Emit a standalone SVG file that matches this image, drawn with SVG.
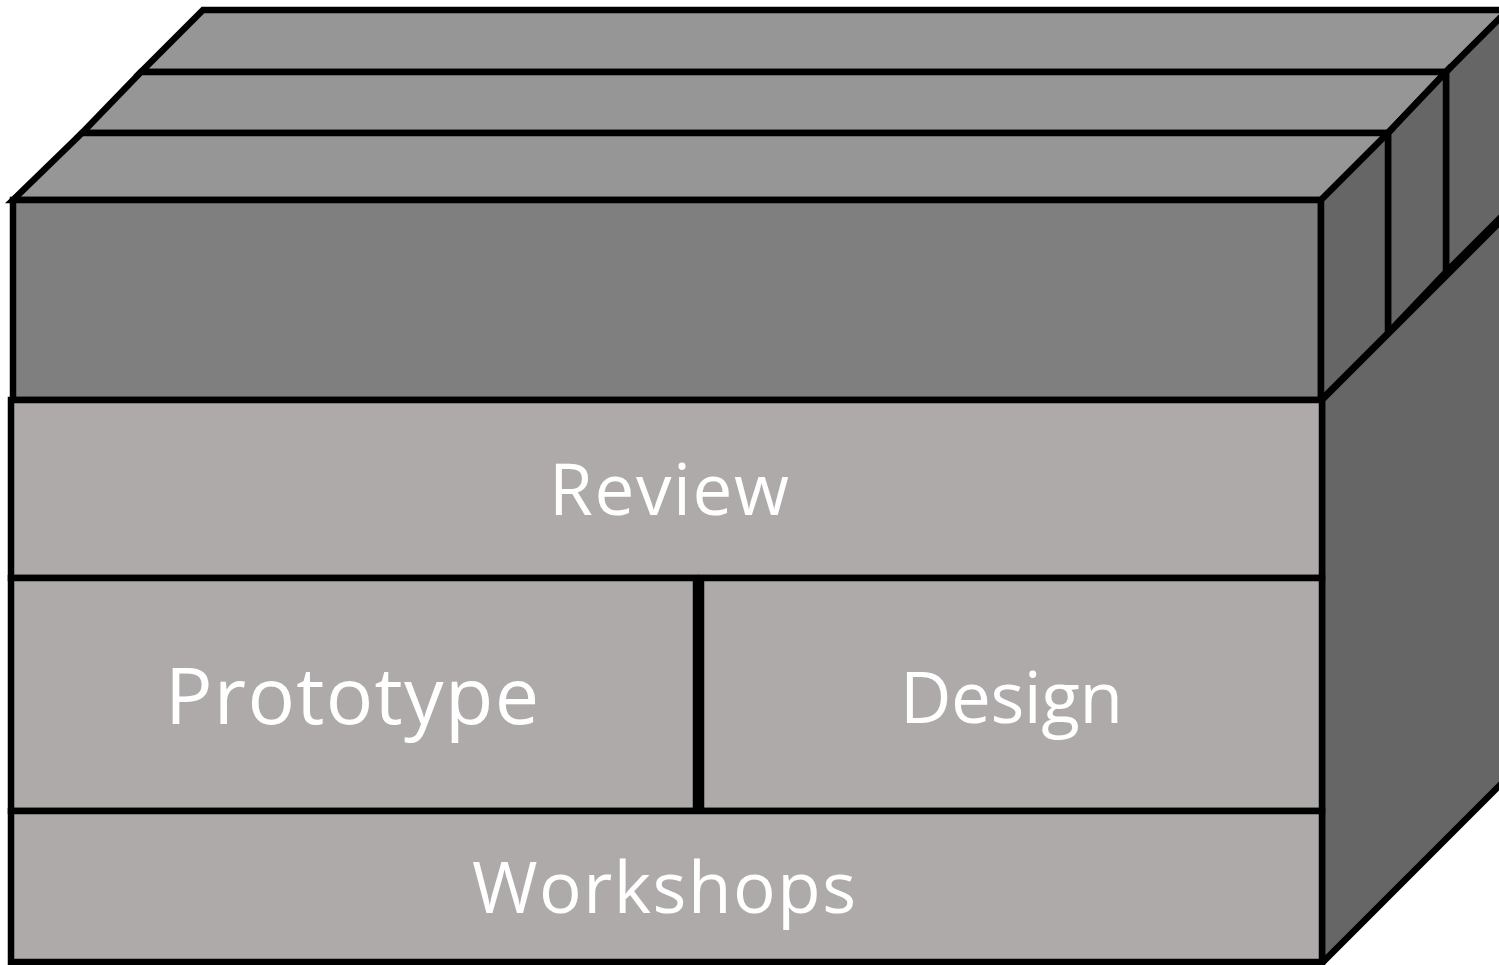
<svg xmlns="http://www.w3.org/2000/svg" width="1499" height="965" viewBox="0 0 1499 965">
<style>
.e{stroke:#000;stroke-width:6.5;stroke-linejoin:miter}
.top{fill:#969696}
.front{fill:#7f7f7f}
.side{fill:#666666}
.box{fill:#aeaaaa}
.lbl{font-family:"Open Sans","Lato","Liberation Sans",sans-serif;fill:#fff;font-size:71px}
</style>
<rect width="1499" height="965" fill="#fff"/>
<g id="slab-back">
<polygon class="e top" points="203,10 1508,10 1446,72 141,72"/>
<polygon class="e side" points="1446,72 1508,10 1508,210 1446,272"/>
</g>
<g id="slab-middle">
<polygon class="e top" points="141,72 1446,72 1388,133 82,133"/>
<polygon class="e side" points="1388,133 1446,72 1446,272 1388,333"/>
</g>
<g id="slab-front">
<polygon class="e top" points="82,133 1388,133 1321,200 13,200"/>
<rect class="e front" x="13" y="200" width="1308" height="200"/>
<polygon class="e side" points="1321,200 1388,133 1388,333 1321,400"/>
</g>
<g id="cube-side">
<polygon class="e side" points="1322,400 1512,210 1512,773 1322,963"/>
</g>
<g id="review">
<rect class="e box" x="11" y="400" width="1311" height="178"/>
<text class="lbl" x="549" y="515" textLength="240">Review</text>
</g>
<g id="prototype">
<rect class="e box" x="11" y="578" width="685" height="233"/>
<text class="lbl" x="165" y="724" textLength="374" style="font-size:79px">Prototype</text>
</g>
<g id="design">
<rect class="e box" x="701" y="578" width="621" height="233"/>
<text class="lbl" x="900" y="723" textLength="223">Design</text>
</g>
<g id="workshops">
<rect class="e box" x="11" y="811" width="1311" height="151"/>
<text class="lbl" x="472" y="913" textLength="384">Workshops</text>
</g>
</svg>
